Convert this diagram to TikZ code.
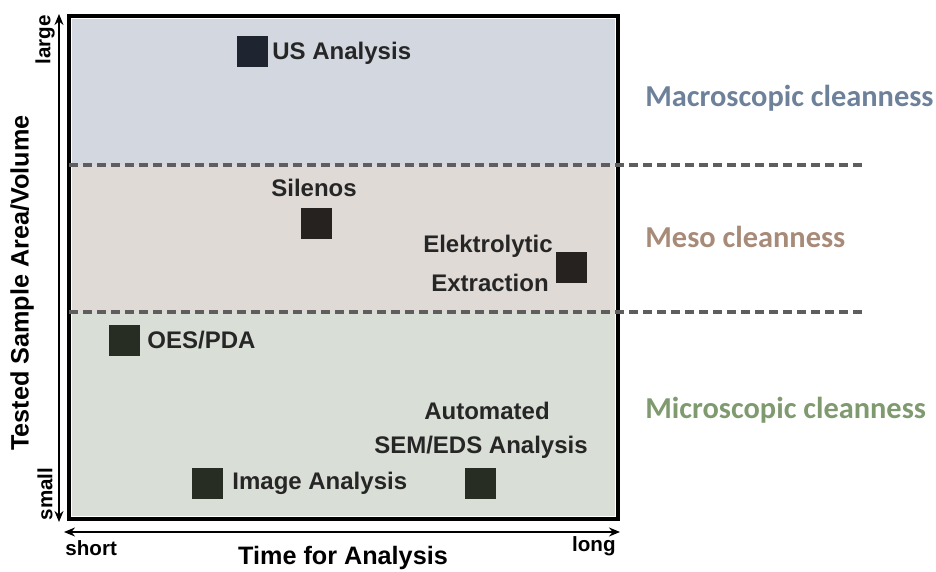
\documentclass[tikz,border=0pt]{standalone}
\usepackage{fontspec}
\setmainfont{Liberation Sans}
\newfontfamily\zonefont{Carlito}
\usetikzlibrary{arrows.meta}
\definecolor{macrofill}{HTML}{D3D8E0}
\definecolor{mesofill}{HTML}{DFDAD6}
\definecolor{microfill}{HTML}{D9DFD6}
\definecolor{macrotext}{HTML}{6E819B}
\definecolor{mesotext}{HTML}{A88A78}
\definecolor{microtext}{HTML}{7F9A6E}
\definecolor{labeltext}{HTML}{262626}
\definecolor{dashgray}{HTML}{5E5E5E}
\definecolor{macrosq}{HTML}{1F2530}
\definecolor{mesosq}{HTML}{26221F}
\definecolor{microsq}{HTML}{282D24}
\tikzset{
  method/.style={draw=none, minimum size=15.5pt, inner sep=0pt},
  mlabel/.style={font=\bfseries\fontsize{12}{14}\selectfont, text=labeltext, inner sep=0pt},
  zone/.style={font=\zonefont\bfseries\fontsize{15.2}{17}\selectfont, anchor=west, inner sep=0pt},
  axislabel/.style={font=\bfseries\fontsize{12.6}{14}\selectfont, inner sep=0pt},
  ticklabel/.style={font=\bfseries\fontsize{10.3}{12}\selectfont, inner sep=0pt},
  axisarrow/.style={line width=1.2pt, {Stealth[length=5.5pt,width=4.5pt]}-{Stealth[length=5.5pt,width=4.5pt]}},
  divider/.style={dashgray, line width=1.6pt, dash pattern=on 4.5pt off 2.5pt}
}
\begin{document}
\begin{tikzpicture}[x=0.5pt, y=-0.5pt]
\useasboundingbox (0,0) rectangle (936,572);
% zone fills
\fill[macrofill] (72,19) rectangle (615,165);
\fill[mesofill] (72,165) rectangle (615,312);
\fill[microfill] (72,312) rectangle (615,516);
% frame
\draw[line width=1.6pt] (69,16) rectangle (618,519);
% zone dividers
\draw[divider] (69,165) -- (865,165);
\draw[divider] (69,312) -- (865,312);
% axes
\coordinate (ytop) at (59,14);
\coordinate (ybot) at (59,522);
\coordinate (xleft) at (64,532);
\coordinate (xright) at (620,532);
\draw[axisarrow] (ytop) -- (ybot);
\draw[axisarrow] (xleft) -- (xright);
\node[ticklabel, rotate=90] (large) at (45,40) {large};
\node[ticklabel, rotate=90] (small) at (45,494) {small};
\node[ticklabel, anchor=west] (short) at (65,548) {short};
\node[ticklabel, anchor=east] (long) at (616,546) {long};
\node[axislabel] (xtitle) at (343,558) {Time for Analysis};
\node[axislabel, rotate=90] (ytitle) at (22,283) {Tested Sample Area/Volume};
% methods
\node[method, fill=macrosq] (us) at (252,52) {};
\node[mlabel, anchor=west] (usl) at (272,53) {US Analysis};
\node[method, fill=mesosq] (sil) at (316,224) {};
\node[mlabel] (sill) at (314,188) {Silenos};
\node[method, fill=mesosq] (elx) at (571,267) {};
\node[mlabel] (elxa) at (488,246) {Elektrolytic};
\node[mlabel] (elxb) at (490,283) {Extraction};
\node[method, fill=microsq] (oes) at (124,340) {};
\node[mlabel, anchor=west] (oesl) at (147,340) {OES/PDA};
\node[method, fill=microsq] (img) at (207,483) {};
\node[mlabel, anchor=west] (imgl) at (232,483) {Image Analysis};
\node[method, fill=microsq] (sem) at (480,483) {};
\node[mlabel] (sema) at (487,411) {Automated};
\node[mlabel] (semb) at (481,447) {SEM/EDS Analysis};
% cleanness zones
\node[zone, text=macrotext] (macro) at (645,98) {Macroscopic cleanness};
\node[zone, text=mesotext] (meso) at (645,237) {Meso cleanness};
\node[zone, text=microtext] (micro) at (645,410) {Microscopic cleanness};
\end{tikzpicture}
\end{document}
